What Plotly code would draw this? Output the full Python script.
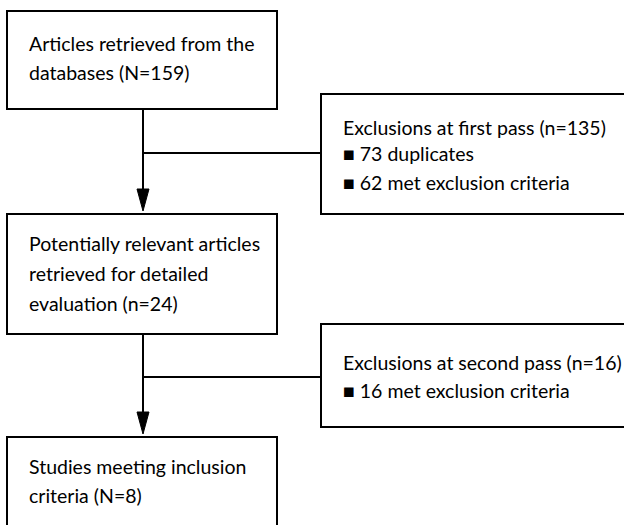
import plotly.graph_objects as go

# ---- content ----
box_texts = [
    ["Articles retrieved from the", "databases (N=159)"],
    ["Poten\u200ctially relevant articles", "retrieved for detailed", "evaluation (n=24)"],
    ["Studies mee\u200cting inclusion", "criteria (N=8)"],
]
excl_headers = ["Exclusions at first pass (n=135)", "Exclusions at second pass (n=16)"]
excl_items = [["73 duplicates", "62 met exclusion criteria"], ["16 met exclusion criteria"]]

# ---- layout (pixel geometry) ----
W, H = 624, 525
main_boxes = [(7, 11, 277, 109), (7, 214, 277, 334), (7, 437, 277, 540)]
side_boxes = [(321, 94, 640, 214), (321, 324, 640, 427)]
main_line_y = [[43, 72], [243, 273, 303], [466, 495]]
side_line_y = [[127, 153, 182], [362, 390]]
spine_x = 143
connector_y = [153, 377]
text_x_main = 27
text_x_side = 341

FONT = "Lato"
FS = 19.5
LW = 2

fig = go.Figure()
shapes = []
ann = []

for (x0, y0, x1, y1) in main_boxes + side_boxes:
    shapes.append(dict(type="rect", x0=x0, y0=y0, x1=x1, y1=y1,
                       line=dict(color="black", width=LW), fillcolor="white", layer="above"))

for i in range(2):
    top = main_boxes[i][3]
    nxt = main_boxes[i + 1][1]
    tip = nxt - 3
    shapes.append(dict(type="line", x0=spine_x, y0=top, x1=spine_x, y1=tip - 10,
                       line=dict(color="black", width=LW)))
    shapes.append(dict(type="path",
                       path=f"M {spine_x-6},{tip-22} L {spine_x+6},{tip-22} L {spine_x},{tip} Z",
                       fillcolor="black", line=dict(color="black", width=1)))
    shapes.append(dict(type="line", x0=spine_x, y0=connector_y[i], x1=side_boxes[i][0], y1=connector_y[i],
                       line=dict(color="black", width=LW)))

for lines, ys in zip(box_texts, main_line_y):
    for t, y in zip(lines, ys):
        ann.append(dict(x=text_x_main, y=y, text=t, xanchor="left", yanchor="middle",
                        showarrow=False, font=dict(family=FONT, size=FS, color="black")))

for hdr, items, ys in zip(excl_headers, excl_items, side_line_y):
    lines = [hdr] + ["\u25A0 " + it for it in items]
    for t, y in zip(lines, ys):
        ann.append(dict(x=text_x_side, y=y, text=t, xanchor="left", yanchor="middle",
                        showarrow=False, font=dict(family=FONT, size=FS, color="black")))

fig.update_layout(
    width=W, height=H, margin=dict(l=0, r=0, t=0, b=0),
    paper_bgcolor="white", plot_bgcolor="white",
    xaxis=dict(range=[0, W], visible=False, fixedrange=True),
    yaxis=dict(range=[H, 0], visible=False, fixedrange=True),
    shapes=shapes, annotations=ann, showlegend=False,
)
fig.write_html("out.html", config={"displayModeBar": False},
               post_script="document.body.style.margin='0';document.body.style.overflow='hidden';")
